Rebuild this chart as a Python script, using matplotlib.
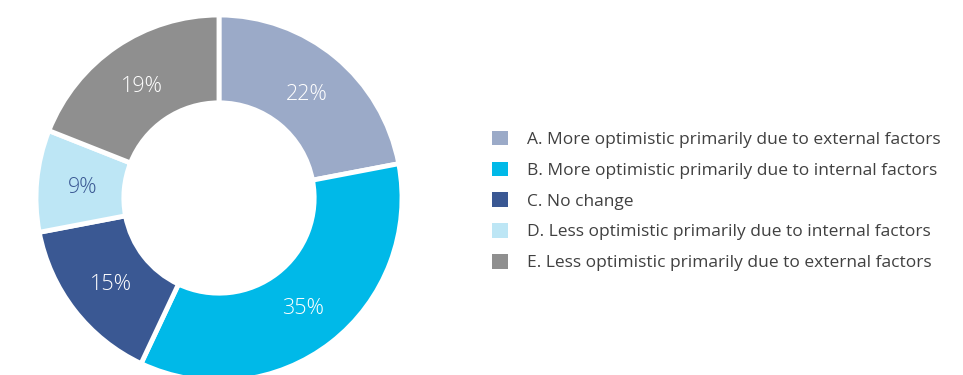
import matplotlib.pyplot as plt

# survey answers, clockwise from 12 o'clock
labels = ['A. More optimistic primarily due to external factors',
          'B. More optimistic primarily due to internal factors',
          'C. No change',
          'D. Less optimistic primarily due to internal factors',
          'E. Less optimistic primarily due to external factors']
shares = [22, 35, 15, 9, 19]
colors = ['#9baac8', '#00b9e8', '#3a5893', '#bde6f5', '#8f8f8f']
pct_colors = ['white', 'white', 'white', '#3a5893', 'white']

plt.rcParams['font.family'] = ['Open Sans', 'DejaVu Sans']

W, H = 963, 375
fig = plt.figure(figsize=(W / 100, H / 100), dpi=100)

# donut axes: centre (219, 177) px from bottom-left, radius 183 px
cx, cy, r = 219, 177, 183
ax = fig.add_axes([(cx - r) / W, (cy - r) / H, 2 * r / W, 2 * r / H])
wedges, texts, autotexts = ax.pie(
    shares, colors=colors, startangle=90, counterclock=False, radius=1,
    autopct='%d%%', pctdistance=0.75,
    wedgeprops=dict(width=0.48, edgecolor='white', linewidth=3.5),
    textprops=dict(fontsize=15.5, fontweight='light'))
for t, c in zip(autotexts, pct_colors):
    t.set_color(c)
    t.set_va('center_baseline')
ax.set_xlim(-1, 1)
ax.set_ylim(-1, 1)
ax.set_aspect('equal')
ax.axis('off')

leg = fig.legend(wedges, labels, loc='center left',
                 bbox_to_anchor=(492 / W, 174 / H),
                 frameon=False, fontsize=12.5, borderpad=0, borderaxespad=0,
                 handlelength=0.92, handleheight=0.92, handletextpad=1.09,
                 labelspacing=0.78)
for h in leg.legend_handles:
    h.set_edgecolor('none')
for t in leg.get_texts():
    t.set_color('#404040')

fig.savefig('out.png', dpi=100)
